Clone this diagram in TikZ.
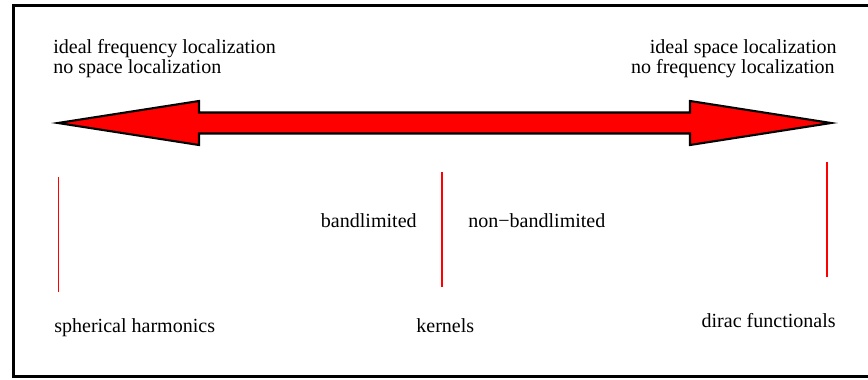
\documentclass[tikz,border=0pt]{standalone}
\usepackage{fontspec}
\setmainfont{Liberation Serif}
\newfontfamily\diagfont{Liberation Serif}
\tikzset{
  lbl/.style={inner sep=0pt,font=\diagfont\fontsize{11.4}{11}\selectfont},
  tick/.style={red,line width=0.7pt},
}
\begin{document}
\begin{tikzpicture}[x=0.02cm,y=-0.02cm]
	\clip (0,0) rectangle (868,379);
	\draw[line width=1.7pt] (13.5,5.5) rectangle (890,376);
	% double arrow
	\draw[line width=1.2pt,fill=red,line join=miter] (58,123) -- (199,101) -- (199,112.5) -- (690,112.5) -- (690,101)
		-- (831,123) -- (690,145) -- (690,133.5) -- (199,133.5) -- (199,145) -- cycle;
	\node[lbl,anchor=base west] (f1) at (53,53) {ideal frequency localization};
	\node[lbl,anchor=base west] (f2) at (53,73) {no space localization};
	\node[lbl,anchor=base east] (s1) at (837,53) {ideal space localization};
	\node[lbl,anchor=base east] (s2) at (835,73) {no frequency localization};
	% ticks
	\coordinate (a1) at (58.5,177); \coordinate (a2) at (58.5,292);
	\coordinate (b1) at (442,172); \coordinate (b2) at (442,287);
	\coordinate (c1) at (827,162); \coordinate (c2) at (827,277);
	\draw[tick] (a1) -- (a2);
	\draw[tick] (b1) -- (b2);
	\draw[tick] (c1) -- (c2);
	\node[lbl,anchor=base east] (bl) at (417,227) {bandlimited};
	\node[lbl,anchor=base west] (nbl) at (468,227) {non−bandlimited};
	\node[lbl,anchor=base west] (sh) at (54,332) {spherical harmonics};
	\node[lbl,anchor=base west] (ke) at (416,332) {kernels};
	\node[lbl,anchor=base east] (di) at (836,327) {dirac functionals};
\end{tikzpicture}
\end{document}
